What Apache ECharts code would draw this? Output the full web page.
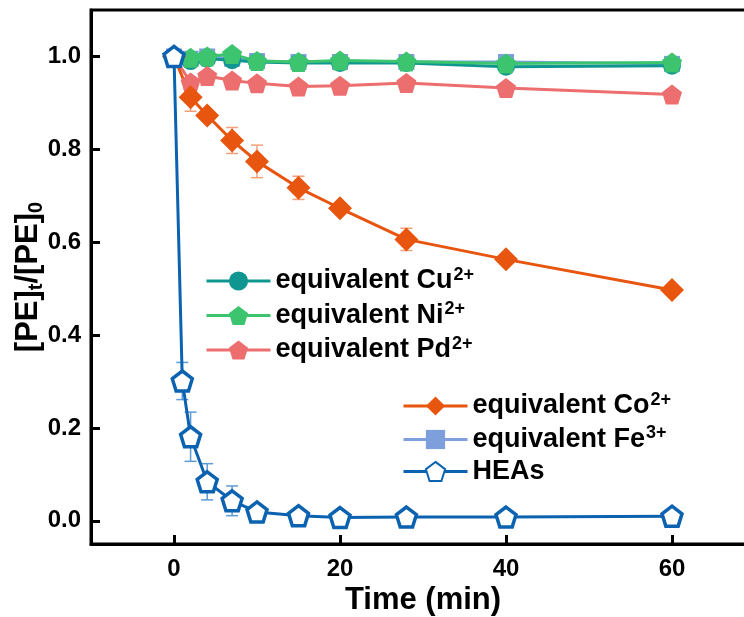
<!DOCTYPE html>
<html><head><meta charset="utf-8">
<script src="https://cdn.jsdelivr.net/npm/echarts@6/dist/echarts.min.js"></script>
<style>html,body{margin:0;padding:0;background:#fff}#c{width:744px;height:617px}</style>
</head><body><div id="c"></div>
<script>
const timeX = [0, 2, 4, 7, 10, 15, 20, 28, 40, 60];
const heaX = [0, 1, 2, 4, 7, 10, 15, 20, 28, 40, 60];
const cuY = [1.0, 0.99, 0.995, 0.992, 0.988, 0.986, 0.986, 0.986, 0.978, 0.98];
const niY = [1.0, 0.997, 1.0, 1.005, 0.99, 0.988, 0.991, 0.989, 0.985, 0.987];
const pdY = [1.0, 0.944, 0.958, 0.948, 0.942, 0.935, 0.937, 0.943, 0.932, 0.918];
const coY = [1.0, 0.912, 0.873, 0.819, 0.774, 0.717, 0.673, 0.606, 0.563, 0.497];
const feY = [1.0, 0.995, 1.0, 0.995, 0.99, 0.988, 0.988, 0.988, 0.988, 0.984];
const heaY = [1.0, 0.301, 0.181, 0.084, 0.043, 0.019, 0.011, 0.007, 0.008, 0.008, 0.01];
// error bars: [x, y, err]
const heaErr = [[1, 0.301, 0.04], [2, 0.181, 0.053], [4, 0.084, 0.039], [7, 0.043, 0.032]];
const coErr = [[2, 0.912, 0.03], [7, 0.819, 0.028], [10, 0.774, 0.035], [15, 0.717, 0.025], [28, 0.606, 0.024]];
const xTicks = [0, 20, 40, 60];
const yTicks = [0, 0.2, 0.4, 0.6, 0.8, 1.0];
const names = ['equivalent Cu', 'equivalent Ni', 'equivalent Pd', 'equivalent Co', 'equivalent Fe', 'HEAs'];
const sups = ['2+', '2+', '2+', '2+', '3+', ''];

const FONT = '"Liberation Sans", Arial, sans-serif';
const pent = 'path://M0,-10 L9.511,-3.09 L5.878,8.09 L-5.878,8.09 L-9.511,-3.09 Z';
const pair = a => a.map((v, i) => [timeX[i], v]);

function errSeries(data, color) {
  return {
    type: 'custom', data: data, z: 1, silent: true, legendHoverLink: false,
    encode: { x: 0, y: 1 },
    renderItem: function (params, api) {
      const x = api.value(0), y = api.value(1), e = api.value(2);
      const p1 = api.coord([x, y + e]), p2 = api.coord([x, y - e]);
      const w = 6;
      const st = { stroke: color, lineWidth: 1.5 };
      return { type: 'group', children: [
        { type: 'line', shape: { x1: p1[0], y1: p1[1], x2: p2[0], y2: p2[1] }, style: st },
        { type: 'line', shape: { x1: p1[0] - w, y1: p1[1], x2: p1[0] + w, y2: p1[1] }, style: st },
        { type: 'line', shape: { x1: p2[0] - w, y1: p2[1], x2: p2[0] + w, y2: p2[1] }, style: st }
      ]};
    }
  };
}

function lineSeries(name, data, color, symbol, size, extra) {
  return Object.assign({
    name: name, type: 'line', data: data, symbol: symbol, symbolSize: size,
    lineStyle: { color: color, width: 3 }, itemStyle: { color: color },
    z: 3, animation: false
  }, extra || {});
}

const fmt = function (n) {
  const i = names.indexOf(n);
  return sups[i] ? '{a|' + n + '}{s|' + sups[i] + '}' : '{a|' + n + '}';
};
const legendText = {
  fontFamily: FONT, fontWeight: 'bold', color: '#000',
  rich: {
    a: { fontFamily: FONT, fontWeight: 'bold', fontSize: 27, lineHeight: 30, color: '#000' },
    s: { fontFamily: FONT, fontWeight: 'bold', fontSize: 18, lineHeight: 30, verticalAlign: 'top', color: '#000', padding: [0, 0, 8, 1] }
  }
};
const legendBase = { orient: 'vertical', padding: 0, itemWidth: 64, itemHeight: 24, formatter: fmt, textStyle: legendText, selectedMode: false, lineStyle: { width: 3 } };

const chart = echarts.init(document.getElementById('c'), null, { renderer: 'canvas' });
chart.setOption({
  animation: false,
  backgroundColor: '#fff',
  grid: { left: 91, top: 10, right: -11, bottom: 73, show: true, borderColor: '#000', borderWidth: 3, containLabel: false, outerBoundsMode: 'none' },
  legend: [
    Object.assign({ data: names.slice(0, 3), left: 205, top: 266, itemGap: 6 }, legendBase),
    Object.assign({ data: names.slice(3), left: 402, top: 391, itemGap: 5 }, legendBase)
  ],
  xAxis: {
    type: 'value', min: -10, max: 70,
    name: 'Time (min)', nameLocation: 'middle', nameGap: 41, nameMoveOverlap: false,
    nameTextStyle: { fontFamily: FONT, fontWeight: 'bold', fontSize: 31, color: '#000' },
    axisLine: { onZero: false, lineStyle: { color: '#000', width: 3 } },
    axisTick: { inside: true, length: 9, lineStyle: { width: 3, color: '#000' }, customValues: xTicks },
    axisLabel: { fontFamily: FONT, fontWeight: 'bold', fontSize: 24, color: '#000', margin: 13, customValues: xTicks },
    splitLine: { show: false }
  },
  yAxis: {
    type: 'value', min: -0.05, max: 1.1,
    name: '{a|[PE]}{s|t}{a|/[PE]}{s|0}', nameLocation: 'middle', nameGap: 45, nameRotate: 90, nameMoveOverlap: false,
    nameTextStyle: {
      rich: {
        a: { fontFamily: FONT, fontWeight: 'bold', fontSize: 31, lineHeight: 36, color: '#000' },
        s: { fontFamily: FONT, fontWeight: 'bold', fontSize: 20, lineHeight: 18, verticalAlign: 'bottom', color: '#000' }
      }
    },
    axisLine: { onZero: false, lineStyle: { color: '#000', width: 3 } },
    axisTick: { inside: true, length: 9, lineStyle: { width: 3, color: '#000' }, customValues: yTicks },
    axisLabel: { fontFamily: FONT, fontWeight: 'bold', fontSize: 24, color: '#000', margin: 10, customValues: yTicks, formatter: v => v.toFixed(1) },
    splitLine: { show: false }
  },
  series: [
    errSeries(heaErr, '#5d9bd6'),
    errSeries(coErr, '#f2a07a'),
    lineSeries(names[4], pair(feY), '#7d9fdc', 'rect', 16),
    lineSeries(names[0], pair(cuY), '#0f9691', 'circle', 18),
    lineSeries(names[1], pair(niY), '#3cc46f', pent, 20),
    lineSeries(names[2], pair(pdY), '#ec6e6e', pent, 20),
    lineSeries(names[3], pair(coY), '#e8550f', 'diamond', 24),
    lineSeries(names[5], heaY.map((v, i) => [heaX[i], v]), '#0b62b0', pent, 20, {
      itemStyle: { color: '#fff', borderColor: '#0b62b0', borderWidth: 3.5 }, z: 4
    })
  ]
});
</script></body></html>
